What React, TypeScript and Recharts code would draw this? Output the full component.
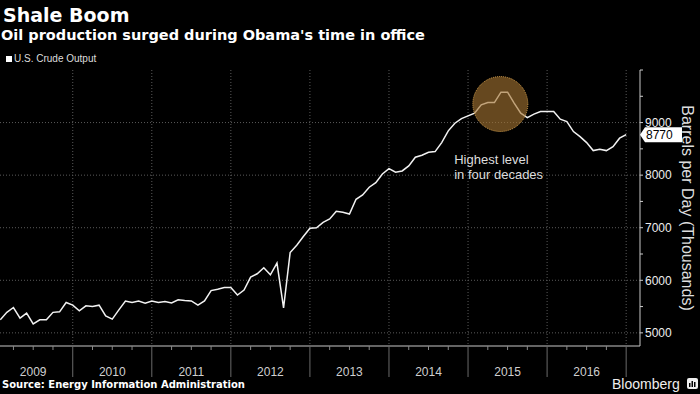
import React from "react";
import { LineChart, Line, XAxis, YAxis, CartesianGrid, ReferenceDot } from "recharts";

// US crude output, thousand barrels per day, monthly Jan 2009 - Dec 2016
const crudeOutput = [
  5248, 5390, 5482, 5280, 5375, 5171, 5248, 5248, 5390, 5400, 5577, 5527,
  5420, 5514, 5500, 5527, 5324, 5261, 5438, 5604, 5577, 5604, 5565, 5604,
  5577, 5595, 5570, 5628, 5614, 5608, 5527, 5608, 5804, 5830, 5861, 5861,
  5719, 5814, 6061, 6124, 6238, 6105, 6328, 5476, 6527, 6668, 6832, 6990,
  7000, 7103, 7166, 7313, 7294, 7261, 7541, 7623, 7770, 7857, 8023, 8124,
  8055, 8080, 8175, 8341, 8379, 8436, 8448, 8619, 8842, 8988, 9076, 9128,
  9179, 9337, 9381, 9381, 9579, 9579, 9370, 9179, 9095, 9160, 9210, 9210,
  9210, 9065, 9019, 8829, 8733, 8619, 8467, 8493, 8467, 8543, 8703, 8770,
];
const years = ["2009", "2010", "2011", "2012", "2013", "2014", "2015", "2016"];
const yTicks = [5000, 5500, 6000, 6500, 7000, 7500, 8000, 8500, 9000, 9500, 10000];
const yLabels = [5000, 6000, 7000, 8000, 9000];
const lastValue = crudeOutput[crudeOutput.length - 1];

const peak = { month: 76.9, value: 9353 };
const note = { month: 69.9, value: 8212, lines: ["Highest level", "in four decades"] };

const FONT = "'Liberation Sans', Arial, sans-serif";
const HEAD = "'DejaVu Sans', Verdana, sans-serif";

const data = crudeOutput.map((v, i) => ({ month: i + 1, output: v }));
const quarterTicks = years.flatMap((_, yi) => [3, 6, 9, 12].map((q) => yi * 12 + q));
const yearStarts = years.map((_, yi) => (yi + 1) * 12);

function XTick({ x, y, payload }: any) {
  const t = payload.value;
  const m = t % 12;
  if (m === 0) {
    return <line x1={x} x2={x} y1={y} y2={y + 31} stroke="#6a6a6a" />;
  }
  return (
    <g>
      <line x1={x} x2={x} y1={y} y2={y + 4} stroke="#888" />
      {m === 6 && (
        <text x={x} y={y + 30} textAnchor="middle" fill="#cfcfcf" fontSize={12} fontFamily={FONT}>
          {years[(t - 6) / 12]}
        </text>
      )}
    </g>
  );
}

function YTick({ x, y, payload }: any) {
  const v = payload.value;
  if (v === lastValue) {
    const pts = `${x},${y} ${x + 5},${y - 7.5} ${x + 42},${y - 7.5} ${x + 42},${y + 7.5} ${x + 5},${y + 7.5}`;
    return (
      <g>
        <polygon points={pts} fill="#fff" />
        <text x={x + 6} y={y} dy="0.36em" fill="#000" fontSize={12} fontFamily={FONT}>
          {v}
        </text>
      </g>
    );
  }
  return (
    <g>
      <line x1={x} x2={x + 3} y1={y} y2={y} stroke="#ccc" />
      {yLabels.includes(v) && (
        <text x={x + 5} y={y} dy="0.36em" fill="#eee" fontSize={12} fontFamily={FONT}>
          {v}
        </text>
      )}
    </g>
  );
}

export default function App() {
  return (
    <div
      style={{
        position: "absolute",
        left: 0,
        top: 0,
        width: 700,
        height: 394,
        background: "#000",
        fontFamily: FONT,
        overflow: "hidden",
      }}
    >
      <div style={{ position: "absolute", left: 3, top: 6, fontSize: 19, lineHeight: 1, fontWeight: 700, color: "#fff", fontFamily: HEAD }}>
        Shale Boom
      </div>
      <div style={{ position: "absolute", left: 1, top: 28, fontSize: 14.5, lineHeight: 1, fontWeight: 700, color: "#fff", fontFamily: HEAD }}>
        Oil production surged during Obama's time in office
      </div>
      <div style={{ position: "absolute", left: 6, top: 56, width: 6, height: 6, background: "#fff" }} />
      <div style={{ position: "absolute", left: 14, top: 54, fontSize: 10, lineHeight: 1, color: "#ddd" }}>
        U.S. Crude Output
      </div>

      <LineChart width={700} height={394} data={data} margin={{ top: 70, right: 0, bottom: 0, left: 0 }}>
        <CartesianGrid
          stroke="#5a5a5a"
          strokeDasharray="1 2"
          horizontalValues={yLabels}
          verticalValues={yearStarts}
        />
        <XAxis
          dataKey="month"
          type="number"
          domain={[0.96, 98.1]}
          ticks={quarterTicks}
          interval={0}
          height={48}
          tickSize={0}
          tickMargin={0}
          tickLine={false}
          axisLine={{ stroke: "#c8c8c8" }}
          tick={<XTick />}
        />
        <YAxis
          orientation="right"
          type="number"
          domain={[4750, 10000]}
          ticks={[...yTicks, lastValue]}
          interval={0}
          width={60}
          tickSize={0}
          tickMargin={0}
          tickLine={false}
          axisLine={{ stroke: "#c8c8c8" }}
          tick={<YTick />}
          label={{
            content: (p: any) => {
              const vb = p.viewBox;
              return (
                <text
                  transform={`translate(${vb.x + 47},${vb.y + vb.height / 2}) rotate(90)`}
                  textAnchor="middle"
                  dominantBaseline="central"
                  fill="#ddd"
                  fontSize={16}
                  fontFamily={FONT}
                >
                  Barrels per Day (Thousands)
                </text>
              );
            },
          }}
        />
        <Line
          type="linear"
          dataKey="output"
          stroke="#f2f2f2"
          strokeWidth={1.5}
          dot={false}
          isAnimationActive={false}
        />
        <ReferenceDot
          x={peak.month}
          y={peak.value}
          r={27.5}
          fill="#a57432"
          fillOpacity={0.62}
          stroke="#d8a24e"
          strokeDasharray="1 1"
        />
        <ReferenceDot
          x={note.month}
          y={note.value}
          r={0}
          shape={(p: any) => (
            <text x={p.cx} y={p.cy} fill="#ddd" fontSize={13} fontFamily={FONT}>
              {note.lines.map((l, i) => (
                <tspan key={i} x={p.cx} dy={i === 0 ? 0 : 15.5}>
                  {l}
                </tspan>
              ))}
            </text>
          )}
        />
      </LineChart>

      <div style={{ position: "absolute", left: 2, top: 380, fontSize: 10, lineHeight: 1, fontWeight: 700, color: "#fff", fontFamily: HEAD }}>
        Source: Energy Information Administration
      </div>
      <div style={{ position: "absolute", left: 612, top: 377, fontSize: 14, lineHeight: 1, color: "#eee" }}>
        Bloomberg
      </div>
      <svg style={{ position: "absolute", left: 687, top: 378 }} width={11} height={11}>
        <rect x={0} y={0} width={11} height={11} rx={2} fill="#eee" />
        <rect x={2} y={5} width={1.5} height={4} fill="#000" />
        <rect x={4.5} y={3} width={1.5} height={6} fill="#000" />
        <rect x={7} y={4} width={1.5} height={5} fill="#000" />
      </svg>
    </div>
  );
}
